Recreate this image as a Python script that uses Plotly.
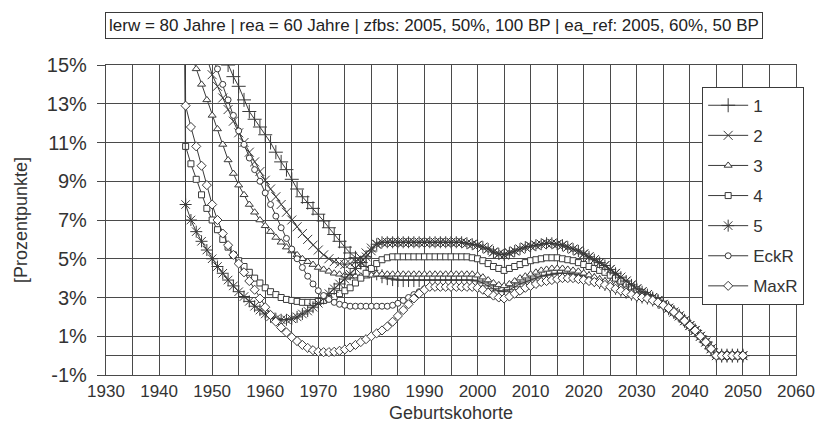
import plotly.graph_objects as go

# Geburtskohorten 1944..2050
YEARS = list(range(1944, 2051))

Y_TICKS = [-1, 1, 3, 5, 7, 9, 11, 13, 15]
Y_LABELS = ["-1%", "1%", "3%", "5%", "7%", "9%", "11%", "13%", "15%"]

# Verlauf 1944..1990 je Variante
HEAD_1 = [25, 23.5, 22, 20.5, 19.3, 18.2, 17.2, 16.4, 15.7, 15.0, 14.4, 13.9, 13.2, 12.6, 12.2,
          11.8, 11.4, 11.0, 10.5, 10.0, 9.6, 9.1, 8.6, 8.2, 7.9, 7.6, 7.3, 6.95, 6.6, 6.25, 5.9,
          5.6, 5.3, 5.05, 4.8, 4.6, 4.4, 4.25, 4.1, 4.0, 3.95, 3.9, 3.9, 3.9, 3.9, 3.9, 3.9]
HEAD_2 = [22, 20.5, 19, 17.6, 16.4, 15.4, 14.5, 13.9, 13.3, 12.7, 12.1, 11.5, 11.0, 10.5, 10.0,
          9.5, 9.05, 8.6, 8.2, 7.8, 7.4, 7.0, 6.65, 6.3, 6.0, 5.7, 5.45, 5.2, 5.0, 4.85, 4.75,
          4.7, 4.75, 4.85, 5.05, 5.3, 5.55, 5.75, 5.85, 5.85, 5.85, 5.85, 5.85, 5.85, 5.85, 5.85, 5.85]
HEAD_3 = [19, 17, 15.6, 14.8, 14.0, 13.2, 12.4, 11.7, 10.9, 10.1, 9.4, 8.8, 8.3, 7.8, 7.4,
          7.0, 6.7, 6.4, 6.1, 5.85, 5.6, 5.4, 5.2, 5.0, 4.85, 4.7, 4.55, 4.45, 4.35, 4.25, 4.2,
          4.15, 4.1, 4.1, 4.1, 4.1, 4.15, 4.2, 4.2, 4.2, 4.2, 4.2, 4.2, 4.2, 4.2, 4.2, 4.2]
HEAD_4 = [60, 10.8, 9.9, 9.1, 8.3, 7.6, 7.0, 6.5, 6.0, 5.6, 5.2, 4.9, 4.6, 4.3, 4.0,
          3.75, 3.5, 3.3, 3.15, 3.0, 2.9, 2.85, 2.8, 2.75, 2.75, 2.75, 2.8, 2.85, 2.95, 3.05, 3.2,
          3.35, 3.5, 3.75, 4.0, 4.25, 4.5, 4.75, 4.95, 5.05, 5.1, 5.1, 5.1, 5.1, 5.1, 5.1, 5.1]
HEAD_5 = [60, 7.8, 7.0, 6.4, 5.9, 5.45, 5.0, 4.6, 4.25, 3.9, 3.6, 3.3, 3.05, 2.8, 2.55,
          2.35, 2.15, 2.0, 1.9, 1.85, 1.85, 1.9, 2.0, 2.15, 2.3, 2.5, 2.7, 2.95, 3.2, 3.45, 3.7,
          3.95, 4.2, 4.5, 4.8, 5.1, 5.4, 5.75, 5.85, 5.85, 5.85, 5.85, 5.85, 5.85, 5.85, 5.85, 5.85]
HEAD_ECKR = [21, 20, 19, 18, 17.1, 16.3, 15.5, 14.8, 14.0, 13.2, 12.4, 11.6, 10.9, 10.2, 9.6,
             9.0, 8.4, 7.8, 7.2, 6.6, 6.05, 5.5, 5.0, 4.55, 4.1, 3.7, 3.35, 3.1, 2.9, 2.75, 2.65,
             2.6, 2.55, 2.55, 2.55, 2.55, 2.55, 2.55, 2.55, 2.55, 2.6, 2.7, 2.85, 3.0, 3.15, 3.3, 3.45]
HEAD_MAXR = [60, 12.9, 11.8, 10.8, 9.8, 8.8, 7.8, 7.0, 6.3, 5.7, 5.2, 4.75, 4.3, 3.85, 3.4,
             2.95, 2.5, 2.1, 1.75, 1.45, 1.2, 0.95, 0.75, 0.55, 0.4, 0.28, 0.2, 0.18, 0.18, 0.2, 0.25,
             0.32, 0.42, 0.55, 0.7, 0.85, 1.0, 1.15, 1.3, 1.5, 1.75, 2.05, 2.35, 2.65, 2.95, 3.2, 3.4]

# Verlauf 1991..2050 je Band
TAIL_TOP = [5.85, 5.85, 5.85, 5.85, 5.85, 5.85, 5.85, 5.8, 5.75, 5.7, 5.6, 5.5, 5.35, 5.25, 5.2,
            5.3, 5.4, 5.5, 5.6, 5.65, 5.7, 5.75, 5.8, 5.8, 5.75, 5.7, 5.6, 5.5, 5.4, 5.25,
            5.1, 4.95, 4.8, 4.65, 4.45, 4.25, 4.05, 3.85, 3.65, 3.45, 3.3, 3.15, 3.0, 2.85, 2.65,
            2.45, 2.25, 2.05, 1.8, 1.55, 1.3, 1.0, 0.7, 0.35, 0, 0, 0, 0, 0, 0]
TAIL_SQ = [5.1, 5.1, 5.1, 5.1, 5.1, 5.1, 5.1, 5.1, 5.05, 5.0, 4.9, 4.75, 4.6, 4.5, 4.4,
           4.5, 4.6, 4.7, 4.8, 4.9, 4.95, 5.0, 5.05, 5.05, 5.05, 5.0, 4.95, 4.9, 4.8, 4.7,
           4.6, 4.5, 4.4, 4.3, 4.15, 4.0, 3.85, 3.7, 3.55, 3.4, 3.25, 3.1, 2.95, 2.8, 2.65,
           2.45, 2.25, 2.05, 1.8, 1.55, 1.3, 1.0, 0.7, 0.35, 0, 0, 0, 0, 0, 0]
TAIL_TRI = [4.2, 4.2, 4.2, 4.2, 4.2, 4.2, 4.2, 4.2, 4.2, 4.15, 4.05, 3.9, 3.75, 3.65, 3.6,
            3.7, 3.85, 4.0, 4.1, 4.2, 4.3, 4.4, 4.45, 4.5, 4.5, 4.5, 4.45, 4.4, 4.35, 4.25,
            4.15, 4.05, 3.95, 3.85, 3.75, 3.65, 3.55, 3.45, 3.35, 3.25, 3.15, 3.05, 2.95, 2.8, 2.65,
            2.45, 2.25, 2.05, 1.8, 1.55, 1.3, 1.0, 0.7, 0.35, 0, 0, 0, 0, 0, 0]
TAIL_PLUS = [3.9, 3.9, 3.9, 3.9, 3.9, 3.9, 3.9, 3.9, 3.9, 3.85, 3.75, 3.6, 3.45, 3.35, 3.3,
             3.4, 3.55, 3.7, 3.8, 3.9, 4.0, 4.1, 4.15, 4.2, 4.25, 4.25, 4.25, 4.2, 4.15, 4.1,
             4.0, 3.9, 3.8, 3.7, 3.6, 3.5, 3.4, 3.3, 3.2, 3.1, 3.05, 3.0, 2.9, 2.8, 2.65,
             2.45, 2.25, 2.05, 1.8, 1.55, 1.3, 1.0, 0.7, 0.35, 0, 0, 0, 0, 0, 0]
TAIL_REF = [3.55, 3.55, 3.55, 3.55, 3.55, 3.55, 3.55, 3.55, 3.55, 3.5, 3.4, 3.25, 3.1, 3.0, 2.95,
            3.05, 3.2, 3.35, 3.5, 3.6, 3.7, 3.8, 3.85, 3.9, 3.95, 4.0, 4.0, 4.0, 3.95, 3.9,
            3.85, 3.8, 3.75, 3.65, 3.55, 3.45, 3.35, 3.25, 3.15, 3.05, 3.0, 2.95, 2.85, 2.75, 2.6,
            2.45, 2.25, 2.05, 1.8, 1.55, 1.3, 1.0, 0.7, 0.35, 0, 0, 0, 0, 0, 0]

SERIES = [
    ("1", HEAD_1 + TAIL_PLUS, "cross-thin", 10),
    ("2", HEAD_2 + TAIL_TOP, "x-thin", 9),
    ("3", HEAD_3 + TAIL_TRI, "triangle-up", 7),
    ("4", HEAD_4 + TAIL_SQ, "square", 6),
    ("5", HEAD_5 + TAIL_TOP, "asterisk", 10),
    ("EckR", HEAD_ECKR + TAIL_REF, "circle", 6),
    ("MaxR", HEAD_MAXR + TAIL_REF, "diamond", 7),
]

INK = "#3a3a3a"
GRID = "#4a4a4a"
FONT = "Liberation Sans, Arial, sans-serif"

fig = go.Figure()
for i, (name, vals, sym, size) in enumerate(SERIES):
    fig.add_trace(go.Scatter(
        x=YEARS, y=vals, name=name, mode="lines+markers",
        legendgroup=f"g{i}",
        line=dict(color=INK, width=1),
        marker=dict(symbol=sym, size=size, color="white",
                    line=dict(color=INK, width=1)),
    ))

fig.update_layout(
    width=821, height=425,
    margin=dict(l=106, r=25, t=65, b=50),
    plot_bgcolor="white", paper_bgcolor="white",
    font=dict(family=FONT, color="#333", size=17),
    showlegend=True,
    legend=dict(
        x=0.864, y=0.93, xanchor="left", yanchor="top",
        bgcolor="white", bordercolor=INK, borderwidth=1,
        font=dict(size=17), tracegroupgap=5, itemwidth=40,
    ),
    xaxis=dict(
        range=[1930, 2060], dtick=10, tick0=1930,
        showgrid=True, gridcolor=GRID, gridwidth=1.3,
        minor=dict(dtick=5, showgrid=True, gridcolor=GRID, gridwidth=1.3),
        showline=True, linecolor=GRID, linewidth=1.3, mirror=True,
        ticks="", zeroline=False, automargin=False,
        title=dict(text="Geburtskohorte", font=dict(size=18), standoff=6),
        tickfont=dict(size=17),
    ),
    yaxis=dict(
        range=[-1, 15], tickvals=Y_TICKS, ticktext=Y_LABELS,
        showgrid=True, gridcolor=GRID, gridwidth=1.3,
        zeroline=True, zerolinecolor=GRID, zerolinewidth=1.3,
        showline=True, linecolor=GRID, linewidth=1.3, mirror=True,
        ticks="outside", ticklen=8, tickcolor=GRID, automargin=False,
        ticklabelstandoff=6,
        title=dict(text="[Prozentpunkte]", font=dict(size=18), standoff=14),
        tickfont=dict(size=20),
    ),
)

fig.add_annotation(
    text="lerw = 80 Jahre | rea = 60 Jahre | zfbs: 2005, 50%, 100 BP | ea_ref: 2005, 60%, 50 BP",
    xref="paper", yref="paper", x=0.476, y=1.129, xanchor="center", yanchor="middle",
    showarrow=False, font=dict(size=17, family=FONT, color="#222"),
    bordercolor=INK, borderwidth=1, borderpad=3, bgcolor="white",
)

# the page body has a default 8px margin; drop it so the figure fills the window
fig.write_html("out.html", config={"displayModeBar": False},
               post_script="document.body.style.margin='0';")
